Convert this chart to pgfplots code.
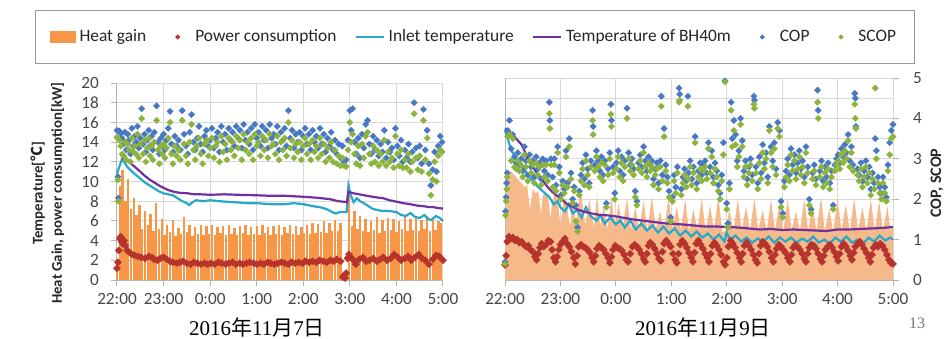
\documentclass[border=0pt]{standalone}
\usepackage{pgfplots}
\pgfplotsset{compat=1.18}
\usepackage{pgfplotstable}
\usepackage{fontspec}
\setmainfont{Carlito}
\newfontfamily\cjkfont{Noto Sans CJK JP}
\newfontfamily\seriffont{Liberation Serif}

\definecolor{hgL}{RGB}{247,150,70}
\definecolor{hgR}{RGB}{246,185,138}
\definecolor{powc}{RGB}{183,52,45}
\definecolor{inlc}{RGB}{40,168,200}
\definecolor{bhc}{RGB}{112,48,160}
\definecolor{copc}{RGB}{70,120,195}
\definecolor{scopc}{RGB}{140,180,60}
\definecolor{gridc}{RGB}{217,217,217}
\definecolor{axc}{RGB}{180,180,180}
\definecolor{tkc}{RGB}{70,70,70}

% ---------------- left panel (7 Nov) ----------------
\pgfplotstableread[row sep=\\]{t v\\
0.00 2.0\\ 0.06 9.5\\ 0.12 11.2\\ 0.18 8.0\\ 0.24 10.3\\ 0.30 7.2\\ 0.36 8.3\\ 0.42 6.6\\ 0.48 7.6\\ 0.54 5.2\\
0.60 7.0\\ 0.66 5.6\\ 0.72 6.7\\ 0.78 5.0\\ 0.84 7.8\\ 0.90 5.2\\ 0.96 6.2\\ 1.02 4.6\\ 1.08 5.6\\ 1.14 4.9\\
1.20 6.1\\ 1.26 4.5\\ 1.32 5.3\\ 1.38 4.7\\ 1.44 6.4\\ 1.50 4.9\\ 1.56 5.6\\ 1.62 4.5\\ 1.68 5.4\\ 1.74 4.7\\
1.80 5.6\\ 1.86 4.6\\ 1.92 5.5\\ 1.98 4.7\\ 2.04 5.6\\ 2.10 4.6\\ 2.16 5.4\\ 2.22 4.8\\ 2.28 5.5\\ 2.34 4.6\\
2.40 5.6\\ 2.46 4.7\\ 2.52 5.3\\ 2.58 4.6\\ 2.64 5.5\\ 2.70 4.8\\ 2.76 5.6\\ 2.82 4.6\\ 2.88 5.4\\ 2.94 4.7\\
3.00 5.5\\ 3.06 4.6\\ 3.12 5.6\\ 3.18 4.8\\ 3.24 5.4\\ 3.30 4.6\\ 3.36 5.5\\ 3.42 4.7\\ 3.48 5.6\\ 3.54 4.6\\
3.60 5.4\\ 3.66 4.8\\ 3.72 5.6\\ 3.78 4.7\\ 3.84 5.5\\ 3.90 4.6\\ 3.96 5.4\\ 4.02 4.8\\ 4.08 5.6\\ 4.14 4.7\\
4.20 5.8\\ 4.26 4.8\\ 4.32 5.7\\ 4.38 4.9\\ 4.44 6.0\\ 4.50 4.8\\ 4.56 5.8\\ 4.62 5.0\\ 4.68 6.1\\ 4.74 5.0\\
4.80 5.8\\ 4.86 0.0\\ 4.92 0.0\\ 4.98 8.8\\ 5.04 5.5\\ 5.10 7.0\\ 5.16 5.2\\ 5.22 6.5\\ 5.28 5.0\\ 5.34 6.2\\
5.40 4.9\\ 5.46 6.0\\ 5.52 5.1\\ 5.58 6.4\\ 5.64 4.8\\ 5.70 6.1\\ 5.76 5.0\\ 5.82 6.3\\ 5.88 5.1\\ 5.94 6.2\\
6.00 4.9\\ 6.06 6.0\\ 6.12 5.2\\ 6.18 6.5\\ 6.24 5.0\\ 6.30 6.2\\ 6.36 5.1\\ 6.42 6.4\\ 6.48 5.0\\ 6.54 6.1\\
6.60 5.2\\ 6.66 6.5\\ 6.72 5.0\\ 6.78 6.3\\ 6.84 5.1\\ 6.90 6.0\\ 6.96 5.8\\
}\LHG

\pgfplotstableread[row sep=\\]{t v\\
0.00 1.2\\ 0.02 1.8\\ 0.04 3.0\\ 0.06 4.2\\ 0.08 4.4\\ 0.10 3.9\\ 0.12 3.7\\ 0.15 4.0\\ 0.18 3.5\\ 0.22 3.0\\
0.27 2.8\\ 0.32 2.6\\ 0.38 2.5\\ 0.45 2.4\\ 0.52 2.3\\ 0.60 2.2\\ 0.68 2.4\\ 0.75 2.3\\ 0.80 2.1\\ 0.87 2.0\\
0.93 2.2\\ 1.00 2.3\\ 1.07 2.1\\ 1.14 1.9\\ 1.20 1.8\\ 1.28 1.7\\ 1.35 1.8\\ 1.42 1.9\\ 1.50 1.7\\ 1.58 1.6\\
1.65 1.8\\ 1.72 1.7\\ 1.80 1.6\\ 1.88 1.7\\ 1.95 1.6\\ 2.02 1.7\\ 2.10 1.6\\ 2.18 1.8\\ 2.25 1.7\\ 2.33 1.6\\
2.40 1.7\\ 2.48 1.8\\ 2.55 1.6\\ 2.63 1.7\\ 2.70 1.6\\ 2.78 1.7\\ 2.85 1.8\\ 2.93 1.7\\ 3.00 1.6\\ 3.08 1.7\\
3.15 1.6\\ 3.23 1.8\\ 3.30 1.7\\ 3.38 1.6\\ 3.45 1.7\\ 3.53 1.8\\ 3.60 1.7\\ 3.68 1.6\\ 3.75 1.8\\ 3.83 1.7\\
3.90 1.8\\ 3.98 1.7\\ 4.05 1.9\\ 4.13 1.8\\ 4.20 1.9\\ 4.28 1.8\\ 4.35 2.0\\ 4.43 1.9\\ 4.50 1.8\\ 4.58 2.0\\
4.65 1.9\\ 4.72 2.1\\ 4.80 1.9\\ 4.85 0.3\\ 4.88 0.5\\ 4.90 0.2\\ 4.92 0.7\\ 4.95 2.2\\ 4.98 2.6\\ 5.02 2.3\\
5.08 2.0\\ 5.13 1.6\\ 5.20 2.1\\ 5.28 2.3\\ 5.35 1.9\\ 5.42 2.0\\ 5.50 2.2\\ 5.58 1.9\\ 5.65 2.1\\ 5.72 2.3\\
5.80 2.0\\ 5.88 2.2\\ 5.95 2.6\\ 6.03 2.3\\ 6.10 2.0\\ 6.18 2.2\\ 6.25 2.4\\ 6.32 2.0\\ 6.40 2.3\\ 6.48 2.6\\
6.55 2.2\\ 6.62 2.0\\ 6.70 1.6\\ 6.78 2.1\\ 6.85 2.5\\ 6.92 2.4\\ 7.00 2.0\\
}\LPOW

\pgfplotstableread[row sep=\\]{t v\\
0.00 10.8\\ 0.05 11.5\\ 0.10 12.2\\ 0.15 12.0\\ 0.22 11.5\\ 0.30 11.1\\ 0.40 10.7\\ 0.50 10.3\\ 0.60 9.9\\ 0.70 9.6\\
0.80 9.3\\ 0.90 9.0\\ 1.00 8.8\\ 1.10 8.7\\ 1.20 8.6\\ 1.30 8.3\\ 1.40 8.0\\ 1.50 7.8\\ 1.55 7.6\\ 1.62 7.9\\
1.70 8.1\\ 1.85 8.0\\ 2.00 8.1\\ 2.20 8.0\\ 2.50 7.9\\ 2.80 7.8\\ 3.00 7.8\\ 3.30 7.7\\ 3.60 7.7\\ 3.80 7.8\\
4.00 7.7\\ 4.20 7.5\\ 4.35 7.4\\ 4.50 7.2\\ 4.62 6.9\\ 4.70 6.75\\ 4.78 6.9\\ 4.86 6.9\\ 4.93 6.9\\ 4.97 9.6\\
5.02 8.6\\ 5.08 7.9\\ 5.15 8.3\\ 5.22 8.0\\ 5.30 7.8\\ 5.40 7.5\\ 5.50 7.2\\ 5.60 7.1\\ 5.70 7.0\\ 5.85 7.0\\
6.00 6.9\\ 6.10 6.6\\ 6.20 6.5\\ 6.30 6.8\\ 6.40 6.4\\ 6.50 6.3\\ 6.60 6.6\\ 6.68 6.2\\ 6.75 6.1\\ 6.85 6.5\\
6.93 6.3\\ 7.00 6.0\\
}\LINL

\pgfplotstableread[row sep=\\]{t v\\
0.10 12.3\\ 0.16 12.5\\ 0.25 12.0\\ 0.38 11.5\\ 0.50 11.0\\ 0.59 10.6\\ 0.70 10.2\\ 0.80 9.9\\ 0.90 9.6\\ 1.02 9.3\\
1.12 9.1\\ 1.23 8.95\\ 1.35 8.85\\ 1.52 8.8\\ 1.65 8.7\\ 1.80 8.7\\ 2.00 8.65\\ 2.30 8.7\\ 2.60 8.65\\ 3.00 8.6\\
3.30 8.55\\ 3.60 8.55\\ 4.00 8.45\\ 4.30 8.35\\ 4.58 8.2\\ 4.75 8.0\\ 4.86 7.95\\ 4.94 7.9\\ 4.97 8.95\\ 5.08 8.8\\
5.20 8.7\\ 5.36 8.55\\ 5.55 8.4\\ 5.72 8.3\\ 5.85 8.1\\ 6.00 7.95\\ 6.15 7.8\\ 6.29 7.7\\ 6.45 7.55\\ 6.57 7.5\\
6.70 7.4\\ 6.79 7.4\\ 6.90 7.3\\ 7.00 7.25\\
}\LBH

\pgfplotstableread[row sep=\\]{t cop scop\\
0.00 3.80 3.62\\ 0.02 2.62 2.54\\ 0.03 2.08 2.00\\ 0.05 3.78 3.55\\ 0.08 3.72 3.40\\ 0.11 3.60 3.20\\ 0.14 3.45 3.15\\
0.17 3.75 3.50\\ 0.20 3.30 3.05\\ 0.23 3.70 3.45\\ 0.26 3.55 3.30\\ 0.29 3.20 3.00\\ 0.32 3.85 3.60\\ 0.35 3.40 3.25\\
0.38 3.65 3.40\\ 0.41 3.50 3.20\\ 0.44 3.90 3.70\\ 0.47 3.35 3.10\\ 0.50 3.60 3.45\\ 0.53 4.35 4.10\\ 0.56 3.45 3.20\\
0.59 3.70 3.55\\ 0.62 3.25 3.00\\ 0.65 3.55 3.35\\ 0.68 3.80 3.60\\ 0.71 3.40 3.15\\ 0.74 3.65 3.40\\ 0.77 3.30 3.05\\
0.80 3.75 3.50\\ 0.85 4.42 4.05\\ 0.88 3.50 3.30\\ 0.91 3.20 2.95\\ 0.94 3.60 3.40\\ 0.97 3.40 3.20\\ 1.00 3.70 3.45\\
1.03 3.30 3.10\\ 1.06 3.55 3.35\\ 1.10 3.85 3.60\\ 1.14 4.28 4.00\\ 1.17 3.45 3.20\\ 1.20 3.25 2.95\\ 1.24 3.65 3.40\\
1.28 3.40 3.15\\ 1.32 3.55 3.30\\ 1.36 3.30 3.05\\ 1.40 4.30 4.05\\ 1.44 3.70 3.45\\ 1.48 3.40 3.15\\ 1.52 3.20 2.95\\
1.56 3.75 3.50\\ 1.60 4.20 3.95\\ 1.64 3.50 3.30\\ 1.68 3.30 3.05\\ 1.72 3.60 3.40\\ 1.76 3.90 3.60\\ 1.80 3.45 3.20\\
1.84 3.25 2.95\\ 1.88 3.65 3.45\\ 1.92 3.80 3.55\\ 1.96 3.40 3.15\\ 2.00 3.55 3.35\\ 2.04 3.85 3.60\\ 2.08 3.35 3.10\\
2.12 3.60 3.40\\ 2.16 3.75 3.50\\ 2.20 3.25 3.00\\ 2.24 3.90 3.65\\ 2.28 3.50 3.25\\ 2.32 3.70 3.45\\ 2.36 3.30 3.05\\
2.40 3.85 3.60\\ 2.44 3.55 3.30\\ 2.48 3.75 3.50\\ 2.52 3.40 3.15\\ 2.56 3.90 3.65\\ 2.60 3.60 3.35\\ 2.64 3.80 3.55\\
2.68 3.35 3.05\\ 2.72 3.95 3.70\\ 2.76 3.55 3.30\\ 2.80 3.75 3.50\\ 2.84 3.45 3.20\\ 2.88 3.85 3.60\\ 2.92 3.30 3.05\\
2.96 3.95 3.70\\ 3.00 3.60 3.40\\ 3.04 3.75 3.50\\ 3.08 3.40 3.15\\ 3.12 3.90 3.65\\ 3.16 3.55 3.30\\ 3.20 3.80 3.55\\
3.24 3.35 3.10\\ 3.28 3.95 3.70\\ 3.32 3.60 3.40\\ 3.36 3.70 3.45\\ 3.40 3.45 3.20\\ 3.44 3.90 3.65\\ 3.48 3.30 3.05\\
3.52 3.75 3.50\\ 3.56 3.55 3.30\\ 3.60 3.85 3.60\\ 3.64 3.40 3.15\\ 3.68 4.30 4.00\\ 3.72 3.60 3.35\\ 3.76 3.80 3.55\\
3.80 3.35 3.10\\ 3.84 3.70 3.45\\ 3.88 3.50 3.25\\ 3.92 3.75 3.50\\ 3.96 3.30 3.05\\ 4.00 3.65 3.40\\ 4.04 3.85 3.60\\
4.08 3.45 3.20\\ 4.12 3.70 3.45\\ 4.16 3.30 3.05\\ 4.20 3.80 3.55\\ 4.24 3.50 3.25\\ 4.28 3.65 3.40\\ 4.32 3.35 3.10\\
4.36 3.85 3.60\\ 4.40 3.45 3.20\\ 4.44 3.70 3.45\\ 4.48 3.25 3.00\\ 4.52 3.60 3.35\\ 4.56 3.40 3.10\\ 4.60 3.75 3.50\\
4.64 3.30 3.00\\ 4.68 3.55 3.30\\ 4.72 3.20 2.95\\ 4.76 3.45 3.15\\ 4.80 3.10 2.90\\ 4.84 3.40 3.10\\ 4.88 3.00 2.90\\
4.92 3.05 2.88\\ 4.96 3.55 3.30\\ 5.00 4.30 4.00\\ 5.03 3.80 3.50\\ 5.06 4.35 3.70\\ 5.10 3.50 3.20\\ 5.14 3.20 2.95\\
5.18 3.60 3.40\\ 5.22 3.10 2.90\\ 5.26 3.70 3.45\\ 5.30 3.35 3.10\\ 5.34 3.95 3.65\\ 5.38 4.05 3.75\\ 5.42 3.45 3.20\\
5.46 3.20 2.95\\ 5.50 3.65 3.40\\ 5.54 3.30 3.00\\ 5.58 3.55 3.30\\ 5.62 3.15 2.90\\ 5.66 3.45 3.20\\ 5.70 3.25 3.00\\
5.74 3.80 3.55\\ 5.78 3.10 2.90\\ 5.82 3.50 3.25\\ 5.86 3.25 3.00\\ 5.90 3.35 3.10\\ 5.94 3.05 2.85\\ 5.98 3.85 3.65\\
6.02 3.40 3.20\\ 6.06 3.15 2.90\\ 6.10 3.55 3.30\\ 6.14 3.00 2.85\\ 6.18 3.30 3.05\\ 6.22 3.10 2.85\\ 6.26 3.45 3.20\\
6.30 3.00 2.75\\ 6.34 3.25 3.00\\ 6.38 4.50 4.22\\ 6.42 3.35 3.10\\ 6.46 3.10 2.80\\ 6.50 3.40 3.15\\ 6.54 2.95 2.75\\
6.58 4.33 4.05\\ 6.62 3.30 3.05\\ 6.66 3.80 3.60\\ 6.70 2.95 2.70\\ 6.74 2.40 2.15\\ 6.78 2.80 2.55\\ 6.82 3.25 3.00\\
6.86 2.75 2.50\\ 6.90 3.40 3.15\\ 6.94 3.65 3.30\\ 6.98 3.50 3.25\\
}\LCOP

% ---------------- right panel (9 Nov) ----------------
\pgfplotstableread[row sep=\\]{t v\\
0.00 1.6\\ 0.03 8.0\\ 0.06 10.4\\ 0.10 10.8\\ 0.15 10.5\\ 0.20 10.2\\ 0.25 9.8\\ 0.30 9.6\\ 0.35 9.2\\ 0.40 9.4\\
0.45 7.0\\ 0.50 9.0\\ 0.55 8.6\\ 0.60 8.8\\ 0.65 6.5\\ 0.68 8.4\\ 0.73 8.6\\ 0.78 8.2\\ 0.82 6.0\\ 0.85 7.8\\
0.90 8.5\\ 0.95 8.0\\ 1.00 5.4\\ 1.05 7.6\\ 1.10 8.2\\ 1.15 6.0\\ 1.18 5.4\\ 1.23 8.3\\ 1.28 5.3\\ 1.33 7.8\\
1.38 8.4\\ 1.45 5.4\\ 1.52 8.0\\ 1.60 5.2\\ 1.66 8.4\\ 1.72 5.3\\ 1.78 7.4\\ 1.85 5.0\\ 1.92 8.3\\ 1.98 5.2\\
2.05 7.6\\ 2.12 5.0\\ 2.20 8.1\\ 2.27 5.0\\ 2.35 7.2\\ 2.42 5.0\\ 2.50 7.8\\ 2.57 4.9\\ 2.65 8.3\\ 2.72 5.0\\
2.80 6.8\\ 2.87 4.9\\ 2.95 8.2\\ 3.02 5.0\\ 3.10 7.3\\ 3.17 4.9\\ 3.25 8.0\\ 3.32 4.8\\ 3.40 7.0\\ 3.47 4.9\\
3.55 8.1\\ 3.62 4.8\\ 3.70 7.4\\ 3.77 4.9\\ 3.85 8.3\\ 3.92 4.7\\ 3.98 4.9\\ 4.05 7.0\\ 4.12 4.8\\ 4.20 8.0\\
4.27 4.9\\ 4.35 7.3\\ 4.42 4.8\\ 4.50 8.1\\ 4.57 4.9\\ 4.65 6.9\\ 4.72 4.8\\ 4.80 8.0\\ 4.87 4.9\\ 4.95 7.5\\
5.02 4.8\\ 5.10 8.1\\ 5.17 4.9\\ 5.25 6.8\\ 5.32 4.8\\ 5.40 8.0\\ 5.47 4.9\\ 5.55 7.4\\ 5.62 4.8\\ 5.70 8.2\\
5.77 4.9\\ 5.85 7.0\\ 5.92 4.8\\ 6.00 8.0\\ 6.07 4.9\\ 6.15 7.5\\ 6.22 4.8\\ 6.30 8.1\\ 6.37 4.9\\ 6.45 7.2\\
6.52 4.8\\ 6.60 8.0\\ 6.67 4.9\\ 6.75 7.8\\ 6.82 4.9\\ 6.90 7.3\\ 6.95 5.0\\ 7.00 5.2\\
}\RHG

\pgfplotstableread[row sep=\\]{t v\\
0.00 1.5\\ 0.02 2.4\\ 0.04 3.8\\ 0.07 4.3\\ 0.10 4.1\\ 0.14 4.2\\ 0.18 3.9\\ 0.22 4.0\\ 0.26 3.7\\ 0.30 3.8\\
0.34 3.5\\ 0.38 3.3\\ 0.42 3.4\\ 0.46 3.0\\ 0.50 2.8\\ 0.54 2.3\\ 0.57 2.0\\ 0.60 2.6\\ 0.63 3.2\\ 0.66 3.6\\
0.70 3.3\\ 0.74 3.5\\ 0.78 3.9\\ 0.82 3.8\\ 0.85 3.0\\ 0.88 2.2\\ 0.91 1.8\\ 0.94 2.3\\ 0.97 3.0\\ 1.00 3.5\\
1.04 3.8\\ 1.08 4.1\\ 1.12 3.6\\ 1.16 3.3\\ 1.20 2.8\\ 1.24 2.2\\ 1.27 1.6\\ 1.30 2.4\\ 1.33 3.3\\ 1.37 3.5\\
1.41 3.3\\ 1.45 3.2\\ 1.49 3.0\\ 1.53 2.7\\ 1.57 2.2\\ 1.60 1.8\\ 1.63 2.4\\ 1.66 3.1\\ 1.70 3.4\\ 1.74 3.2\\
1.78 3.0\\ 1.82 2.6\\ 1.86 2.2\\ 1.89 1.7\\ 1.92 2.3\\ 1.95 3.0\\ 1.99 3.4\\ 2.03 3.2\\ 2.07 3.1\\ 2.11 2.9\\
2.15 2.5\\ 2.19 2.0\\ 2.22 1.8\\ 2.26 2.6\\ 2.30 3.3\\ 2.34 3.5\\ 2.38 3.3\\ 2.42 3.0\\ 2.46 2.6\\ 2.50 2.1\\
2.53 1.8\\ 2.56 2.6\\ 2.59 3.4\\ 2.62 3.7\\ 2.66 3.5\\ 2.70 3.1\\ 2.74 2.6\\ 2.78 2.1\\ 2.81 1.9\\ 2.84 2.8\\
2.87 3.6\\ 2.91 3.9\\ 2.95 3.6\\ 2.99 3.3\\ 3.03 2.6\\ 3.07 2.0\\ 3.10 1.7\\ 3.13 2.6\\ 3.16 3.5\\ 3.20 3.9\\
3.24 3.6\\ 3.28 3.2\\ 3.32 2.7\\ 3.36 2.2\\ 3.39 1.8\\ 3.42 2.7\\ 3.45 3.6\\ 3.49 3.9\\ 3.53 3.5\\ 3.57 3.1\\
3.61 2.6\\ 3.65 2.2\\ 3.68 1.8\\ 3.71 2.6\\ 3.74 3.4\\ 3.78 3.7\\ 3.82 3.4\\ 3.86 3.0\\ 3.90 2.5\\ 3.94 1.8\\
3.97 1.5\\ 4.00 2.2\\ 4.03 3.3\\ 4.07 3.9\\ 4.11 3.6\\ 4.15 3.2\\ 4.19 2.7\\ 4.23 2.2\\ 4.26 1.8\\ 4.29 2.6\\
4.32 3.4\\ 4.36 3.7\\ 4.40 3.4\\ 4.44 3.0\\ 4.48 2.5\\ 4.52 2.0\\ 4.55 1.7\\ 4.58 2.6\\ 4.61 3.4\\ 4.65 3.8\\
4.69 3.6\\ 4.73 3.3\\ 4.77 2.8\\ 4.81 2.2\\ 4.84 1.8\\ 4.87 2.5\\ 4.90 3.1\\ 4.94 3.5\\ 4.98 3.3\\ 5.02 3.0\\
5.06 2.7\\ 5.10 2.2\\ 5.14 1.8\\ 5.17 2.5\\ 5.20 3.2\\ 5.24 3.5\\ 5.28 3.3\\ 5.32 3.0\\ 5.36 2.6\\ 5.40 2.1\\
5.43 1.8\\ 5.46 2.6\\ 5.49 3.2\\ 5.53 3.5\\ 5.57 3.4\\ 5.61 3.1\\ 5.65 2.6\\ 5.69 2.1\\ 5.72 1.8\\ 5.75 2.4\\
5.78 3.0\\ 5.82 3.3\\ 5.86 3.5\\ 5.90 3.2\\ 5.94 2.8\\ 5.98 2.3\\ 6.01 1.9\\ 6.04 2.6\\ 6.07 3.3\\ 6.11 3.6\\
6.15 3.3\\ 6.19 2.9\\ 6.23 2.4\\ 6.26 2.0\\ 6.29 2.7\\ 6.32 3.3\\ 6.36 3.6\\ 6.40 3.8\\ 6.44 3.5\\ 6.48 3.1\\
6.52 2.7\\ 6.56 2.2\\ 6.59 1.8\\ 6.62 2.5\\ 6.65 3.2\\ 6.69 3.5\\ 6.73 3.3\\ 6.77 3.6\\ 6.81 3.4\\ 6.85 3.0\\
6.89 2.5\\ 6.93 2.0\\ 6.96 1.7\\ 7.00 1.6\\
}\RPOW

\pgfplotstableread[row sep=\\]{t v\\
0.00 14.8\\ 0.05 14.0\\ 0.10 13.0\\ 0.20 12.0\\ 0.30 11.3\\ 0.40 10.5\\ 0.50 9.8\\ 0.60 9.2\\ 0.70 8.7\\ 0.80 8.2\\
0.88 7.5\\ 0.95 7.8\\ 1.00 7.2\\ 1.08 6.8\\ 1.15 7.5\\ 1.22 6.6\\ 1.30 6.9\\ 1.38 6.2\\ 1.46 7.2\\ 1.55 6.3\\
1.65 5.9\\ 1.72 6.4\\ 1.80 5.6\\ 1.90 6.2\\ 2.00 5.5\\ 2.08 5.9\\ 2.16 5.2\\ 2.26 5.9\\ 2.36 5.0\\ 2.46 5.6\\
2.56 4.9\\ 2.66 5.4\\ 2.76 4.7\\ 2.86 5.3\\ 2.96 4.6\\ 3.06 5.1\\ 3.16 4.4\\ 3.26 4.9\\ 3.36 4.3\\ 3.46 4.8\\
3.56 4.2\\ 3.66 4.6\\ 3.76 4.0\\ 3.86 4.5\\ 3.96 3.8\\ 4.00 4.7\\ 4.06 4.0\\ 4.16 4.4\\ 4.26 3.8\\ 4.36 4.2\\
4.46 3.7\\ 4.56 4.1\\ 4.66 3.8\\ 4.76 4.3\\ 4.86 3.7\\ 4.96 4.2\\ 5.06 3.8\\ 5.16 4.2\\ 5.26 3.7\\ 5.36 4.1\\
5.46 3.8\\ 5.56 4.3\\ 5.66 3.7\\ 5.76 4.0\\ 5.86 3.6\\ 5.96 4.2\\ 6.06 3.8\\ 6.16 4.3\\ 6.26 3.7\\ 6.36 4.0\\
6.46 3.6\\ 6.56 4.2\\ 6.66 3.8\\ 6.76 4.4\\ 6.86 3.9\\ 6.95 4.2\\ 7.00 4.0\\
}\RINL

\pgfplotstableread[row sep=\\]{t v\\
0.00 15.0\\ 0.05 14.8\\ 0.10 14.6\\ 0.20 14.0\\ 0.30 13.4\\ 0.40 12.2\\ 0.50 11.2\\ 0.60 10.4\\ 0.70 9.7\\ 0.80 9.0\\
0.90 8.5\\ 1.00 8.1\\ 1.10 7.6\\ 1.20 7.3\\ 1.30 7.0\\ 1.40 6.8\\ 1.55 6.6\\ 1.70 6.45\\ 1.85 6.4\\ 2.00 6.3\\
2.15 6.15\\ 2.30 6.0\\ 2.45 5.9\\ 2.60 5.8\\ 2.75 5.7\\ 2.90 5.6\\ 3.05 5.55\\ 3.20 5.5\\ 3.40 5.4\\ 3.60 5.3\\
3.80 5.3\\ 4.00 5.25\\ 4.20 5.2\\ 4.40 5.1\\ 4.60 5.0\\ 4.80 5.05\\ 5.00 4.95\\ 5.20 5.0\\ 5.40 4.95\\ 5.60 4.9\\
5.80 4.85\\ 6.00 5.0\\ 6.20 5.0\\ 6.40 5.05\\ 6.60 5.1\\ 6.80 5.15\\ 7.00 5.25\\
}\RBH

\pgfplotstableread[row sep=\\]{t cop scop\\
0.00 0.45 0.40\\ 0.01 1.70 1.60\\ 0.02 2.05 1.95\\ 0.03 2.40 2.25\\ 0.04 2.65 2.55\\ 0.05 3.70 3.55\\ 0.08 3.95 3.60\\
0.11 3.25 2.95\\ 0.14 3.60 3.50\\ 0.17 3.05 2.80\\ 0.20 2.90 2.75\\ 0.23 3.15 2.95\\ 0.26 2.85 2.70\\ 0.29 3.00 2.85\\
0.32 2.70 2.55\\ 0.35 3.30 3.10\\ 0.38 2.95 2.80\\ 0.41 2.60 2.45\\ 0.44 3.10 2.95\\ 0.47 2.80 2.65\\ 0.50 2.95 2.85\\
0.53 2.55 2.40\\ 0.56 3.05 2.90\\ 0.59 2.75 2.60\\ 0.62 2.90 2.80\\ 0.65 2.50 2.35\\ 0.68 3.00 2.85\\ 0.71 2.70 2.55\\
0.74 2.95 2.85\\ 0.77 2.60 2.45\\ 0.80 4.40 4.12\\ 0.81 3.95 3.75\\ 0.83 3.00 2.85\\ 0.86 2.55 2.30\\ 0.89 3.00 2.85\\
0.92 2.35 2.20\\ 0.95 3.30 3.15\\ 0.98 2.80 2.65\\ 1.01 2.10 2.00\\ 1.04 2.45 2.35\\ 1.07 2.25 2.15\\ 1.10 3.20 3.05\\
1.13 2.40 2.30\\ 1.16 3.50 3.30\\ 1.19 2.65 2.50\\ 1.22 2.00 1.90\\ 1.25 2.30 2.20\\ 1.28 1.85 1.45\\ 1.31 1.30 1.20\\
1.34 2.20 2.10\\ 1.37 2.60 2.45\\ 1.40 2.90 2.75\\ 1.43 2.50 2.35\\ 1.46 3.10 2.95\\ 1.49 2.75 2.60\\ 1.52 2.40 2.30\\
1.55 2.95 2.80\\ 1.58 4.20 3.95\\ 1.59 3.80 3.60\\ 1.62 2.85 2.70\\ 1.65 3.20 3.05\\ 1.68 2.95 2.80\\ 1.71 2.70 2.55\\
1.74 3.05 2.90\\ 1.77 2.60 2.45\\ 1.80 2.95 2.85\\ 1.83 1.90 1.80\\ 1.86 2.75 2.60\\ 1.89 3.15 3.00\\ 1.91 4.35 4.10\\
1.92 3.95 3.80\\ 1.95 2.80 2.65\\ 1.98 2.15 2.00\\ 2.01 2.90 2.75\\ 2.04 3.20 3.05\\ 2.07 2.70 2.55\\ 2.10 3.05 2.90\\
2.13 2.60 2.45\\ 2.16 2.95 2.80\\ 2.20 4.25 4.00\\ 2.23 3.15 3.00\\ 2.26 2.85 2.70\\ 2.29 3.00 2.85\\ 2.32 2.75 2.60\\
2.35 2.20 2.05\\ 2.38 1.95 1.85\\ 2.41 2.90 2.75\\ 2.44 3.10 2.95\\ 2.47 2.80 2.65\\ 2.50 3.30 3.15\\ 2.53 2.95 2.80\\
2.56 2.70 2.55\\ 2.59 3.05 2.90\\ 2.62 2.85 2.70\\ 2.65 2.95 2.80\\ 2.68 2.50 2.35\\ 2.71 2.75 2.60\\ 2.74 2.90 2.75\\
2.77 2.40 2.25\\ 2.80 2.95 2.80\\ 2.82 4.55 4.30\\ 2.84 2.60 2.45\\ 2.87 3.75 3.55\\ 2.90 2.85 2.70\\ 2.93 2.55 2.40\\
2.96 2.20 2.05\\ 2.99 1.55 1.45\\ 3.02 2.05 1.95\\ 3.05 2.60 2.45\\ 3.08 2.30 2.15\\ 3.11 2.80 2.65\\ 3.14 4.75 4.40\\
3.15 4.60 4.45\\ 3.18 2.25 2.10\\ 3.21 2.55 2.40\\ 3.24 2.75 2.60\\ 3.27 2.45 2.30\\ 3.30 4.55 4.30\\ 3.31 2.65 2.50\\
3.34 2.95 2.80\\ 3.37 2.50 2.35\\ 3.40 2.80 2.65\\ 3.43 3.55 3.40\\ 3.46 2.40 2.25\\ 3.49 2.70 2.55\\ 3.52 2.90 2.75\\
3.55 2.60 2.45\\ 3.58 2.85 2.70\\ 3.61 2.95 2.80\\ 3.64 2.65 2.50\\ 3.67 3.40 3.25\\ 3.70 2.80 2.65\\ 3.73 3.20 3.05\\
3.76 2.55 2.40\\ 3.79 2.90 2.75\\ 3.82 2.70 2.55\\ 3.85 2.35 2.20\\ 3.88 2.15 2.00\\ 3.91 2.60 2.45\\ 3.94 3.40 3.10\\
3.97 4.93 4.90\\ 4.00 1.90 1.75\\ 4.02 1.40 1.30\\ 4.05 2.40 2.25\\ 4.08 4.40 4.20\\ 4.10 3.50 3.30\\ 4.13 3.95 3.70\\
4.16 3.60 3.35\\ 4.19 2.95 2.80\\ 4.22 3.20 3.05\\ 4.25 4.00 3.85\\ 4.28 3.45 3.30\\ 4.31 2.70 2.55\\ 4.34 2.95 2.80\\
4.37 2.50 2.35\\ 4.40 2.80 2.65\\ 4.43 3.00 2.85\\ 4.46 2.60 2.45\\ 4.49 4.55 4.35\\ 4.50 4.45 4.25\\ 4.53 2.80 2.65\\
4.56 2.40 2.25\\ 4.59 3.05 2.90\\ 4.62 2.65 2.50\\ 4.65 3.35 3.15\\ 4.68 2.90 2.75\\ 4.71 3.15 3.00\\ 4.74 2.55 2.40\\
4.77 3.80 3.70\\ 4.80 3.30 3.15\\ 4.83 2.95 2.80\\ 4.86 3.40 3.25\\ 4.89 2.75 2.60\\ 4.92 3.90 3.75\\ 4.95 3.70 3.55\\
4.98 1.95 1.80\\ 5.01 1.65 1.55\\ 5.04 2.45 2.30\\ 5.07 2.70 2.55\\ 5.10 3.00 2.85\\ 5.13 2.60 2.45\\ 5.16 3.25 3.10\\
5.19 2.85 2.70\\ 5.22 3.10 2.95\\ 5.25 2.65 2.50\\ 5.28 2.90 2.75\\ 5.31 3.20 3.05\\ 5.34 2.75 2.60\\ 5.37 2.95 2.80\\
5.40 2.55 2.40\\ 5.43 3.30 3.15\\ 5.46 2.80 2.65\\ 5.49 2.00 1.85\\ 5.52 1.75 1.65\\ 5.55 2.65 2.50\\ 5.58 2.85 2.70\\
5.61 2.50 2.35\\ 5.64 4.70 4.40\\ 5.65 4.20 4.00\\ 5.68 2.70 2.55\\ 5.71 2.95 2.80\\ 5.74 2.45 2.30\\ 5.77 2.80 2.65\\
5.80 2.55 2.40\\ 5.83 2.90 2.75\\ 5.86 2.40 2.25\\ 5.89 2.70 2.55\\ 5.92 1.85 1.75\\ 5.95 2.85 2.70\\ 5.98 3.00 2.85\\
6.01 3.10 2.95\\ 6.04 2.90 2.75\\ 6.07 3.25 3.10\\ 6.10 3.05 2.90\\ 6.13 3.35 3.20\\ 6.16 3.15 3.00\\ 6.19 3.60 3.45\\
6.22 2.95 2.80\\ 6.25 3.30 3.15\\ 6.28 2.85 2.70\\ 6.31 4.62 4.35\\ 6.32 4.50 4.00\\ 6.33 3.80 3.75\\ 6.36 2.75 2.60\\
6.39 2.60 2.45\\ 6.42 2.90 2.75\\ 6.45 2.45 2.30\\ 6.48 2.70 2.55\\ 6.51 2.95 2.80\\ 6.54 2.55 2.40\\ 6.57 2.80 2.65\\
6.60 2.25 2.10\\ 6.63 2.65 2.50\\ 6.66 2.40 2.25\\ 6.68 3.50 4.75\\ 6.70 3.20 3.00\\ 6.73 2.55 2.40\\ 6.76 2.30 2.15\\
6.79 2.15 2.00\\ 6.82 2.55 2.40\\ 6.85 2.30 2.15\\ 6.88 2.05 1.95\\ 6.91 2.85 2.70\\ 6.94 3.40 3.10\\ 6.97 3.70 3.50\\
7.00 3.85 3.55\\
}\RCOP

\pgfplotsset{
  panel/.style={scale only axis, xmin=0, xmax=7, ymin=0, clip=false, anchor=south west,
    xtick={0,...,7}, xticklabels={22:00,23:00,0:00,1:00,2:00,3:00,4:00,5:00},
    tick label style={font=\fontsize{8.6}{10}\selectfont, text=tkc},
    /pgf/number format/assume math mode=true,
    major tick length=3pt, tick align=outside, tick style={axc, line width=0.5pt}},
  prim/.style={panel, ymax=20, ytick={0,2,...,20},
    grid=major, grid style={gridc, line width=0.5pt},
    axis x line*=bottom, axis y line*=left, axis line style={axc, line width=0.5pt, -}},
  sec/.style={panel, ymax=5, ytick={0,...,5}},
  mk/.style={only marks, mark=square*, mark size=1.15pt, color=#1,
    mark options={rotate=45, fill=#1, draw=#1, line width=0.1pt}},
  lnlg/.style={legend image code/.code={\draw[##1] (0pt,0pt) -- (14pt,0pt);}},
  dmlg/.style={legend image code/.code={%
    \fill[opacity=0] (0pt,-0.5pt) rectangle (13pt,0.5pt);
    \fill[draw=none, fill=#1] (6.5pt,1.3pt) -- (7.8pt,0pt) -- (6.5pt,-1.3pt) -- (5.2pt,0pt) -- cycle;}},
}

\begin{document}
\begin{tikzpicture}
\path[use as bounding box] (0pt,0pt) rectangle (475.5pt,169pt);

% ===== left panel, primary axis =====
\begin{axis}[prim, at={(58.5pt,29pt)}, width=163pt, height=98.5pt,
  yticklabel style={xshift=-2.5pt},
  ylabel={Temperature[{\cjkfont ℃}]\\Heat Gain, power consumption[kW]},
  every axis y label/.style={at={(axis description cs:-0.213,0.44)}, rotate=90, anchor=center,
    align=center, font=\fontsize{7.4}{9.6}\selectfont\bfseries, text=black!85},
  xlabel={{\seriffont 2016}{\cjkfont 年}{\seriffont 11}{\cjkfont 月}{\seriffont 7}{\cjkfont 日}},
  every axis x label/.style={at={(axis description cs:0.4294,-0.2386)}, anchor=center,
    font=\fontsize{10.5}{12}\selectfont},
  legend columns=6,
  legend cell align=left,
  legend style={at={(axis description cs:-0.2515,1.3706)}, anchor=north west,
    draw=black!40, line width=0.5pt, inner xsep=7pt, inner ysep=7.5pt,
    font=\fontsize{8.7}{10}\selectfont, text=black!85,
    /tikz/every even column/.append style={column sep=7pt}},
]
\addlegendimage{legend image code/.code={\fill[hgL] (0pt,-2.6pt) rectangle (12.5pt,2.6pt);}}
\addlegendentry{Heat gain}
\addlegendimage{dmlg=powc}
\addlegendentry{Power consumption}
\addlegendimage{inlc, line width=1.1pt, lnlg}
\addlegendentry{Inlet temperature}
\addlegendimage{bhc, line width=1.1pt, lnlg}
\addlegendentry{Temperature of BH40m}
\addlegendimage{dmlg=copc}
\addlegendentry{COP}
\addlegendimage{dmlg=scopc}
\addlegendentry{SCOP}

\addplot[ycomb, hgL, line width=1.2pt, forget plot] table[x=t, y=v] {\LHG};
\addplot[mk=powc, mark size=1.3pt, forget plot] table[x=t, y=v] {\LPOW};
\addplot[inlc, line width=1.1pt, forget plot] table[x=t, y=v] {\LINL};
\addplot[bhc, line width=1.1pt, forget plot] table[x=t, y=v] {\LBH};
\end{axis}

% ===== left panel, secondary axis (COP) =====
\begin{axis}[sec, hide axis, at={(58.5pt,29pt)}, width=163pt, height=98.5pt]
\addplot[mk=copc] table[x=t, y=cop] {\LCOP};
\addplot[mk=scopc] table[x=t, y=scop] {\LCOP};
\end{axis}

% ===== right panel, primary axis =====
\begin{axis}[prim, at={(252.5pt,29pt)}, width=194pt, height=101pt,
  yticklabels={}, ytick style={draw=none},
  xlabel={{\seriffont 2016}{\cjkfont 年}{\seriffont 11}{\cjkfont 月}{\seriffont 9}{\cjkfont 日}},
  every axis x label/.style={at={(axis description cs:0.5103,-0.2327)}, anchor=center,
    font=\fontsize{10.5}{12}\selectfont},
]
\addplot[fill=hgR, draw=none, forget plot] table[x=t, y=v] {\RHG} \closedcycle;
\addplot[mk=powc, mark size=1.3pt, forget plot] table[x=t, y=v] {\RPOW};
\addplot[inlc, line width=1.1pt, forget plot] table[x=t, y=v] {\RINL};
\addplot[bhc, line width=1.1pt, forget plot] table[x=t, y=v] {\RBH};
\end{axis}

% ===== right panel, secondary axis (COP) =====
\begin{axis}[sec, at={(252.5pt,29pt)}, width=194pt, height=101pt,
  axis x line=none, axis y line*=right, axis line style={draw=none},
  yticklabel style={xshift=3.5pt},
  ylabel={COP, SCOP},
  every axis y label/.style={at={(axis description cs:1.1134,0.48)}, rotate=90, anchor=center,
    font=\fontsize{8}{9.6}\selectfont\bfseries, text=black!85},
]
\addplot[mk=copc] table[x=t, y=cop] {\RCOP};
\addplot[mk=scopc] table[x=t, y=scop] {\RCOP};
\end{axis}

\node[font=\fontsize{8}{9}\seriffont, text=black!55] at (458.5pt,7.5pt) {13};
\end{tikzpicture}
\end{document}
